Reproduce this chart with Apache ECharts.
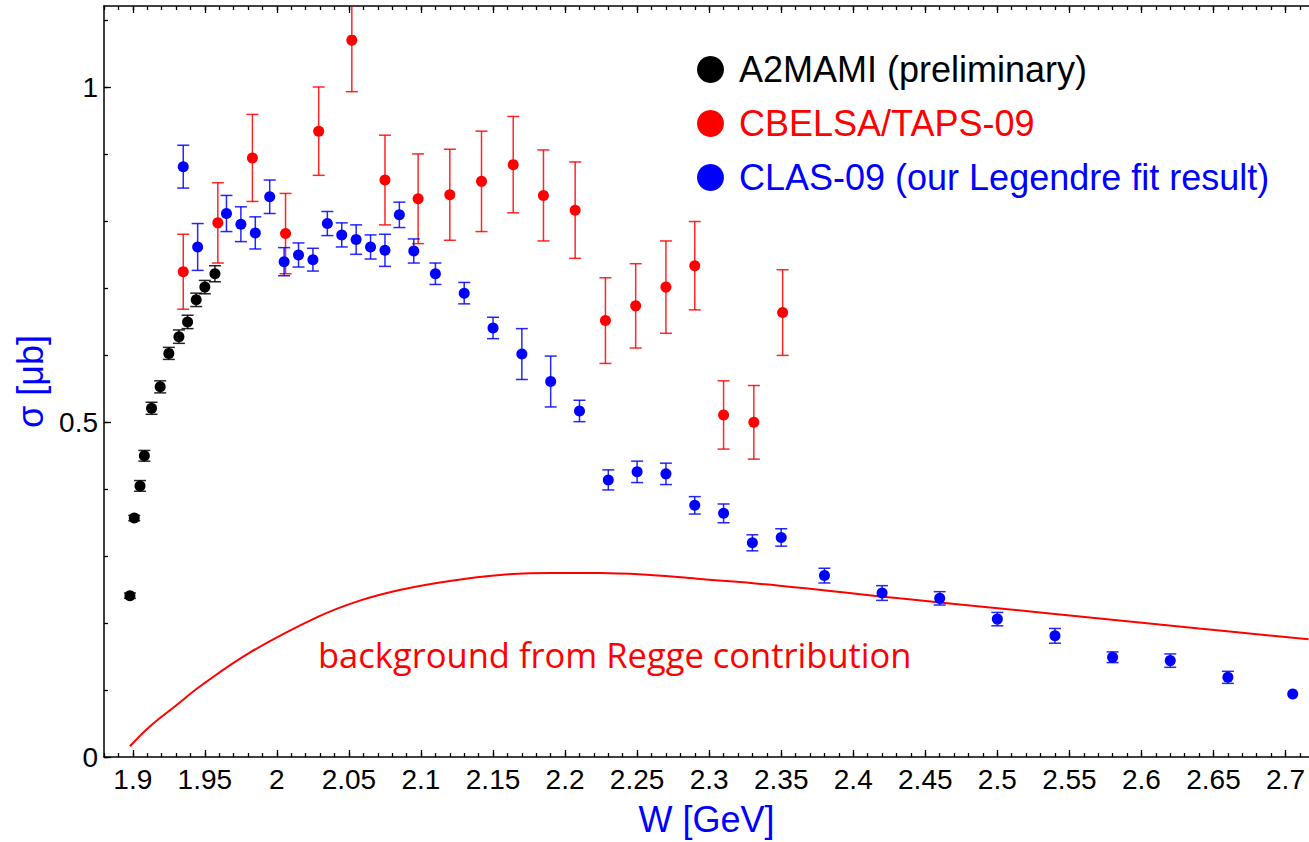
<!DOCTYPE html>
<html>
<head>
<meta charset="utf-8">
<script src="https://cdn.jsdelivr.net/npm/echarts@6/dist/echarts.min.js"></script>
<style>
html,body{margin:0;padding:0;background:#fff;}
#chart{width:1309px;height:842px;}
</style>
</head>
<body>
<div id="chart"></div>
<script>
// ---- data ----
const a2W   = [1.898, 1.901, 1.905, 1.908, 1.913, 1.919, 1.925, 1.932, 1.938, 1.944, 1.950, 1.957];
const a2Sig = [0.241, 0.357, 0.405, 0.450, 0.521, 0.553, 0.603, 0.628, 0.650, 0.683, 0.702, 0.722];
const a2Err = [0.004, 0.004, 0.008, 0.008, 0.009, 0.009, 0.009, 0.010, 0.010, 0.010, 0.010, 0.012];

const cbW   = [1.935, 1.959, 1.983, 2.006, 2.029, 2.052, 2.075, 2.098, 2.120, 2.142, 2.164, 2.185, 2.207, 2.228, 2.249, 2.270, 2.290, 2.310, 2.331, 2.351];
const cbSig = [0.725, 0.798, 0.895, 0.782, 0.935, 1.071, 0.862, 0.834, 0.840, 0.860, 0.885, 0.839, 0.817, 0.652, 0.674, 0.702, 0.734, 0.511, 0.500, 0.664];
const cbErr = [0.056, 0.060, 0.065, 0.060, 0.066, 0.077, 0.067, 0.067, 0.068, 0.075, 0.072, 0.068, 0.072, 0.064, 0.063, 0.069, 0.066, 0.051, 0.055, 0.064];

const clasW   = [1.935, 1.945, 1.965, 1.975, 1.985, 1.995, 2.005, 2.015, 2.025, 2.035, 2.045, 2.055, 2.065, 2.075, 2.085, 2.095, 2.110, 2.130, 2.150, 2.170, 2.190, 2.210, 2.230, 2.250, 2.270, 2.290, 2.310, 2.330, 2.350, 2.380, 2.420, 2.460, 2.500, 2.540, 2.580, 2.620, 2.660, 2.705];
const clasSig = [0.882, 0.762, 0.812, 0.796, 0.783, 0.837, 0.740, 0.750, 0.743, 0.797, 0.780, 0.773, 0.762, 0.757, 0.810, 0.756, 0.722, 0.693, 0.641, 0.602, 0.561, 0.517, 0.414, 0.426, 0.423, 0.376, 0.364, 0.320, 0.328, 0.271, 0.245, 0.237, 0.206, 0.181, 0.149, 0.144, 0.119, 0.094];
const clasErr = [0.032, 0.035, 0.027, 0.026, 0.024, 0.025, 0.021, 0.018, 0.017, 0.018, 0.018, 0.022, 0.018, 0.024, 0.019, 0.018, 0.016, 0.016, 0.016, 0.038, 0.038, 0.016, 0.015, 0.016, 0.016, 0.013, 0.014, 0.012, 0.013, 0.011, 0.011, 0.010, 0.010, 0.011, 0.008, 0.010, 0.009, 0.000];

const reggeW   = [1.898, 1.912, 1.930, 1.947, 1.982, 2.028, 2.058, 2.086, 2.120, 2.155, 2.190, 2.224, 2.259, 2.294, 2.349, 2.432, 2.502, 2.571, 2.640, 2.716];
const reggeSig = [0.016, 0.046, 0.077, 0.106, 0.157, 0.209, 0.234, 0.250, 0.263, 0.272, 0.275, 0.275, 0.272, 0.266, 0.256, 0.237, 0.222, 0.207, 0.192, 0.176];

const xTickLabels = [1.9, 1.95, 2, 2.05, 2.1, 2.15, 2.2, 2.25, 2.3, 2.35, 2.4, 2.45, 2.5, 2.55, 2.6, 2.65, 2.7];
const yTickLabels = [0, 0.5, 1];

const names = ['A2MAMI (preliminary)', 'CBELSA/TAPS-09', 'CLAS-09 (our Legendre fit result)'];
const colors = ['#000000', '#ff0000', '#0000ff'];

// ---- helpers ----
const xMinor = [];
for (let i = 188; i <= 271; i++) xMinor.push(i / 100);
const yMinor = [];
for (let i = 0; i <= 11; i++) yMinor.push(i / 10);

const X_MIN = 1.88, X_MAX = 2.7163, Y_MIN = 0, Y_MAX = 1.122;
const FONT = '"Liberation Sans", Arial, Helvetica, sans-serif';

function zip3(a, b, c) { return a.map((v, i) => [v, b[i], c[i]]); }

function errRender(color) {
  return function (params, api) {
    const x = api.value(0), y = api.value(1), e = api.value(2);
    if (!e) return null;
    const lo = api.coord([x, y - e]);
    const hi = api.coord([x, y + e]);
    const hw = 6;
    const st = { stroke: color, lineWidth: 1.5, opacity: 0.85 };
    return {
      type: 'group',
      children: [
        { type: 'line', shape: { x1: lo[0], y1: lo[1], x2: hi[0], y2: hi[1] }, style: st },
        { type: 'line', shape: { x1: lo[0] - hw, y1: lo[1], x2: lo[0] + hw, y2: lo[1] }, style: st },
        { type: 'line', shape: { x1: hi[0] - hw, y1: hi[1], x2: hi[0] + hw, y2: hi[1] }, style: st }
      ]
    };
  };
}

function xAxisDef(pos, major, labels) {
  return {
    type: 'value', position: pos, min: X_MIN, max: X_MAX,
    axisLine: { show: major, onZero: false, lineStyle: { color: '#000', width: 1.5 } },
    axisTick: { show: true, inside: true, length: major ? 7 : 4, customValues: major ? xTickLabels : xMinor,
                lineStyle: { color: '#000', width: 1.3 } },
    axisLabel: labels ? { show: true, customValues: xTickLabels, margin: 8, color: '#000', fontSize: 28, fontFamily: FONT,
                          formatter: v => String(+(+v).toFixed(2)) } : { show: false },
    splitLine: { show: false }
  };
}
function yAxisDef(pos, major, labels) {
  return {
    type: 'value', position: pos, min: Y_MIN, max: Y_MAX,
    axisLine: { show: major, onZero: false, lineStyle: { color: '#000', width: 1.5 } },
    axisTick: { show: true, inside: true, length: major ? 7 : 4, customValues: major ? yTickLabels : yMinor,
                lineStyle: { color: '#000', width: 1.3 } },
    axisLabel: labels ? { show: true, customValues: yTickLabels, margin: 6, color: '#000', fontSize: 28, fontFamily: FONT,
                          formatter: v => String(+(+v).toFixed(2)) } : { show: false },
    splitLine: { show: false }
  };
}

const xAxes = [xAxisDef('bottom', true, true), xAxisDef('bottom', false, false), xAxisDef('top', true, false), xAxisDef('top', false, false)];
xAxes[0].name = 'W [GeV]';
xAxes[0].nameLocation = 'middle';
xAxes[0].nameGap = 44;
xAxes[0].nameTextStyle = { color: '#0000ff', fontSize: 36, fontFamily: FONT };

const yAxes = [yAxisDef('left', true, true), yAxisDef('left', false, false)];
yAxes[0].name = 'σ [μb]';
yAxes[0].nameLocation = 'middle';
yAxes[0].nameGap = 54;
yAxes[0].nameTextStyle = { color: '#0000ff', fontSize: 36, fontFamily: FONT };

const chart = echarts.init(document.getElementById('chart'), null, { renderer: 'svg' });
chart.setOption({
  animation: false,
  backgroundColor: '#fff',
  grid: { left: 104, top: 6, width: 1206, height: 754, containLabel: false },
  xAxis: xAxes,
  yAxis: yAxes,
  legend: {
    orient: 'vertical', left: 692, top: 46, itemWidth: 27, itemHeight: 27, itemGap: 17, icon: 'circle',
    textStyle: { fontSize: 36, fontFamily: FONT, lineHeight: 37, padding: [0, 0, 0, 10] },
    data: names.map((n, i) => ({ name: n, itemStyle: { color: colors[i] }, textStyle: { color: colors[i] } }))
  },
  graphic: [{
    type: 'text', left: 318, top: 637, silent: true,
    style: { text: 'background from Regge contribution', fill: '#ff0000', fontSize: 34.5, fontFamily: '"Open Sans", "Noto Sans", sans-serif' }
  }],
  series: [
    { name: 'Regge background', type: 'line', smooth: 0.4, showSymbol: false, symbol: 'none', clip: true,
      lineStyle: { color: '#ff0000', width: 2 }, data: reggeW.map((w, i) => [w, reggeSig[i]]), z: 1 },
    { name: 'A2 err', type: 'custom', renderItem: errRender('#000000'), data: zip3(a2W, a2Sig, a2Err), clip: true, z: 2 },
    { name: 'CB err', type: 'custom', renderItem: errRender('#ff0000'), data: zip3(cbW, cbSig, cbErr), clip: true, z: 2 },
    { name: 'CLAS err', type: 'custom', renderItem: errRender('#0000ff'), data: zip3(clasW, clasSig, clasErr), clip: true, z: 2 },
    { name: names[0], type: 'scatter', symbol: 'circle', symbolSize: 11, itemStyle: { color: colors[0], opacity: 1 },
      data: a2W.map((w, i) => [w, a2Sig[i]]), z: 3 },
    { name: names[1], type: 'scatter', symbol: 'circle', symbolSize: 11, itemStyle: { color: colors[1], opacity: 1 },
      data: cbW.map((w, i) => [w, cbSig[i]]), z: 3 },
    { name: names[2], type: 'scatter', symbol: 'circle', symbolSize: 11, itemStyle: { color: colors[2], opacity: 1 },
      data: clasW.map((w, i) => [w, clasSig[i]]), z: 3 }
  ]
});
</script>
</body>
</html>
